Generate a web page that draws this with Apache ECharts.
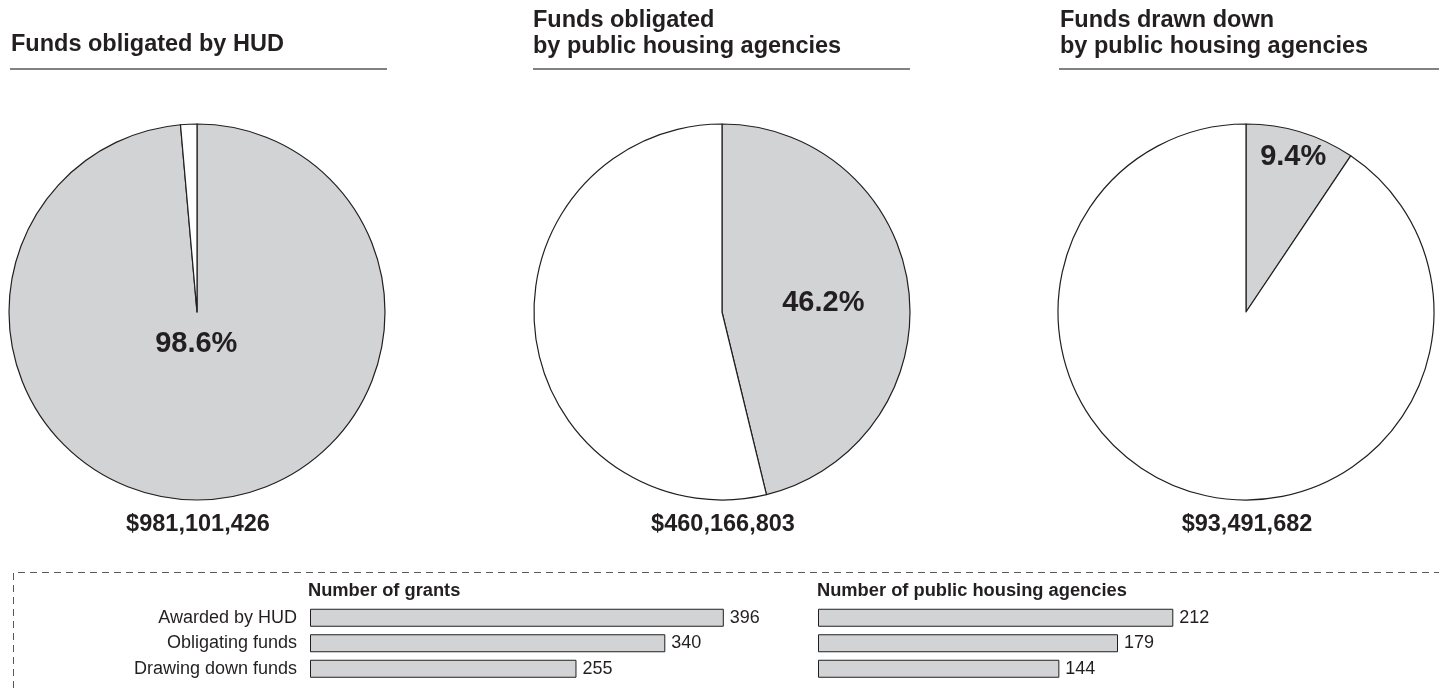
<!DOCTYPE html>
<html>
<head>
<meta charset="utf-8">
<script src="https://cdn.jsdelivr.net/npm/echarts@6/dist/echarts.min.js"></script>
<style>
html,body{margin:0;padding:0;background:#fff;}
#chart{width:1439px;height:688px;}
</style>
</head>
<body>
<div id="chart"></div>
<script>
// ---- data ----
const pieTitles = ['Funds obligated by HUD', 'Funds obligated\nby public housing agencies', 'Funds drawn down\nby public housing agencies'];
const pieShares = [98.6, 46.2, 9.4];
const pieTotals = ['$981,101,426', '$460,166,803', '$93,491,682'];
const barCategories = ['Awarded by HUD', 'Obligating funds', 'Drawing down funds'];
const barTitles = ['Number of grants', 'Number of public housing agencies'];
const grantCounts = [396, 340, 255];
const agencyCounts = [212, 179, 144];

// ---- styling ----
const FONT = "'Liberation Sans', Arial, Helvetica, sans-serif";
const INK = '#231f20';
const GRAY = '#d1d3d4';
const RULE = '#58595b';

const pieCenters = [[197, 312], [722, 312], [1246, 312]];
const pieLabelOffsets = [[-5, -65], [5, 3], [19, -62]];
const titleX = [11, 533, 1060];
const ruleSpans = [[10, 387], [533, 910], [1059, 1439]];

const chart = echarts.init(document.getElementById('chart'), null, {renderer: 'canvas'});

const series = [];
pieShares.forEach((s, i) => {
  series.push({
    type: 'pie',
    radius: 188,
    center: pieCenters[i],
    startAngle: 90,
    clockwise: true,
    silent: true,
    emphasis: {disabled: true, scale: false},
    labelLine: {show: false},
    itemStyle: {borderColor: INK, borderWidth: 1.2},
    data: [
      {name: 'share', value: s, itemStyle: {color: GRAY},
       label: {show: true, position: 'inside', formatter: '{c}%', offset: pieLabelOffsets[i],
               fontFamily: FONT, fontWeight: 'bold', fontSize: 29, color: INK}},
      {name: 'rest', value: +(100 - s).toFixed(1), itemStyle: {color: '#ffffff'}, label: {show: false}}
    ]
  });
});

const barSets = [grantCounts, agencyCounts];
barSets.forEach((vals, i) => {
  series.push({
    type: 'bar',
    xAxisIndex: i,
    yAxisIndex: i,
    barWidth: 18,
    silent: true,
    itemStyle: {color: GRAY, borderColor: INK, borderWidth: 1},
    label: {show: true, position: 'right', distance: 6, fontFamily: FONT, fontSize: 18, color: INK},
    data: vals
  });
});

const graphics = [];
pieTitles.forEach((t, i) => {
  const multi = t.indexOf('\n') >= 0;
  graphics.push({
    type: 'text', x: titleX[i], y: multi ? 33.7 : 44.5,
    style: {text: t, fontFamily: FONT, fontWeight: 'bold', fontSize: 23.5, lineHeight: 26.5,
            fill: INK, textAlign: 'left', textVerticalAlign: 'middle'}
  });
  graphics.push({
    type: 'line', shape: {x1: ruleSpans[i][0], y1: 69, x2: ruleSpans[i][1], y2: 69},
    style: {stroke: RULE, lineWidth: 1.6}
  });
  graphics.push({
    type: 'text', x: pieCenters[i][0] + 1, y: 525,
    style: {text: pieTotals[i], fontFamily: FONT, fontWeight: 'bold', fontSize: 23.5,
            fill: INK, textAlign: 'center', textVerticalAlign: 'middle'}
  });
});
const barTitleX = [308, 817];
barTitles.forEach((t, i) => {
  graphics.push({
    type: 'text', x: barTitleX[i], y: 590.5,
    style: {text: t, fontFamily: FONT, fontWeight: 'bold', fontSize: 18.3,
            fill: INK, textAlign: 'left', textVerticalAlign: 'middle'}
  });
});
graphics.push({
  type: 'polyline',
  shape: {points: [[13.5, 688], [13.5, 572.5], [1439, 572.5]]},
  style: {stroke: RULE, lineWidth: 1, lineDash: [7, 5], fill: null}
});

const option = {
  animation: false,
  backgroundColor: '#ffffff',
  grid: [
    {left: 310, width: 418, top: 605, height: 76.5},
    {left: 818, width: 419, top: 605, height: 76.5}
  ],
  xAxis: [
    {gridIndex: 0, type: 'value', min: 0, max: 400, show: false},
    {gridIndex: 1, type: 'value', min: 0, max: 250, show: false}
  ],
  yAxis: [
    {gridIndex: 0, type: 'category', inverse: true, data: barCategories,
     axisLine: {show: false}, axisTick: {show: false}, splitLine: {show: false},
     axisLabel: {margin: 13, fontFamily: FONT, fontSize: 18, color: INK}},
    {gridIndex: 1, type: 'category', inverse: true, data: barCategories,
     axisLine: {show: false}, axisTick: {show: false}, splitLine: {show: false},
     axisLabel: {show: false}}
  ],
  series: series,
  graphic: {elements: graphics}
};
chart.setOption(option);
</script>
</body>
</html>
